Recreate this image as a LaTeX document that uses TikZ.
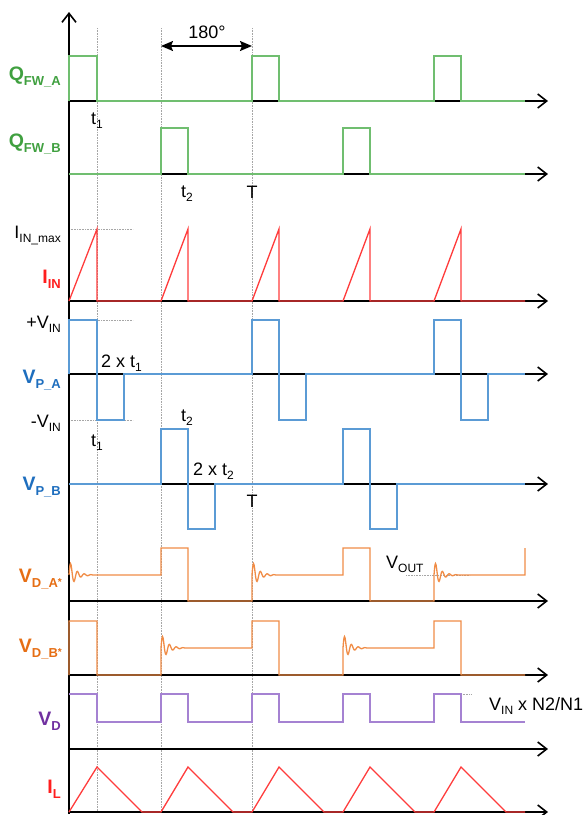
\documentclass[tikz,border=0pt]{standalone}
\usepackage{fontspec}
\setmainfont{Liberation Sans}
\usetikzlibrary{arrows.meta}

% Colores de las señales
\definecolor{qlbl}{RGB}{64,160,64}
\definecolor{qonda}{RGB}{112,190,112}
\definecolor{ilbl}{RGB}{255,30,30}
\definecolor{ionda}{RGB}{255,60,60}
\definecolor{vlbl}{RGB}{30,110,190}
\definecolor{vonda}{RGB}{91,155,213}
\definecolor{olbl}{RGB}{230,110,20}
\definecolor{oonda}{RGB}{240,140,70}
\definecolor{plbl}{RGB}{112,48,160}
\definecolor{ponda}{RGB}{165,130,210}

\newcommand{\sbs}[1]{\raisebox{-4.5pt}{\fontsize{12}{12}\selectfont #1}}
\newcommand{\sbb}[1]{\raisebox{-5pt}{\fontsize{13}{13}\selectfont #1}}
\pgfmathdeclarefunction{rizo}{1}{\pgfmathparse{15*exp(-#1/6)*sin(#1*360/6.8)}}

\begin{document}
\begin{tikzpicture}[x=1pt, y=-1pt,
        eje/.style={line width=1.8pt, -{Straight Barb[length=9pt, width=14pt, line width=1.6pt]}},
        guia/.style={gray!70, densely dotted, line width=0.6pt},
        onda/.style={line width=1.3pt, line join=miter},
        senal/.style={font=\fontsize{19.5}{21}\selectfont\bfseries, anchor=base east, inner sep=0pt},
        txt/.style={font=\fontsize{18}{20}\selectfont, anchor=base west, inner sep=0pt}
    ]
    \useasboundingbox (0,0) rectangle (587,815);

    % Guias punteadas
    \foreach \x in {97,161,252} \draw[guia] (\x,28) -- (\x,812);
    \draw[guia] (69,229) -- (133,229);
    \draw[guia] (69,320) -- (133,320);
    \draw[guia] (69,420) -- (133,420);
    \draw[guia] (406,575) -- (470,575);
    \draw[guia] (461,694) -- (472,694);

    % Ejes
    \coordinate (origen) at (69,814);
    \coordinate (cima) at (69,12);
    \draw[eje] (origen) -- (cima);
    \foreach \y/\n in {101/qa, 174/qb, 301/iin, 374/vpa, 484/vpb, 601/vda, 675/vdb, 749/vd, 812/il} {
        \coordinate (o-\n) at (69,\y);
        \coordinate (e-\n) at (548,\y);
        \draw[eje] (o-\n) -- (e-\n);
    }

    % Desfase de 180 grados
    \coordinate (fa) at (161,46);
    \coordinate (fb) at (252,46);
    \draw[{Stealth[length=12pt, width=10pt, inset=2pt]}-{Stealth[length=12pt, width=10pt, inset=2pt]}, line width=1.5pt] (fa) -- (fb);
    \node[txt, anchor=base] (ang) at (207,38) {180°};

    % Formas de onda
    \draw[onda, qonda] (69,101) -- (69,56) -- (97,56) -- (97,101) -- (252,101) -- (252,56) -- (279,56) -- (279,101)
        -- (434,101) -- (434,56) -- (461,56) -- (461,101) -- (525,101);
    \draw[onda, qonda] (69,174) -- (161,174) -- (161,128) -- (188,128) -- (188,174) -- (343,174) -- (343,128)
        -- (370,128) -- (370,174) -- (525,174);
    \draw[onda, ionda] (69,301) -- (97,229) -- (97,301) -- (161,301) -- (188,229) -- (188,301) -- (252,301)
        -- (279,229) -- (279,301) -- (343,301) -- (370,229) -- (370,301) -- (434,301) -- (461,229) -- (461,301) -- (525,301);
    \draw[onda, vonda] (69,374) -- (69,320) -- (97,320) -- (97,420) -- (124,420) -- (124,374) -- (252,374)
        -- (252,320) -- (279,320) -- (279,420) -- (306,420) -- (306,374) -- (434,374) -- (434,320) -- (461,320)
        -- (461,420) -- (488,420) -- (488,374) -- (525,374);
    \draw[onda, vonda] (69,484) -- (161,484) -- (161,429) -- (188,429) -- (188,529) -- (215,529) -- (215,484)
        -- (343,484) -- (343,429) -- (370,429) -- (370,529) -- (397,529) -- (397,484) -- (525,484);
    \draw[onda, oonda] plot[domain=0:24, samples=49] ({69+\x},{575-rizo(\x)}) -- (161,575) -- (161,548)
        -- (188,548) -- (188,601) -- (252,601) -- (252,575) -- plot[domain=0:24, samples=49] ({252+\x},{575-rizo(\x)})
        -- (343,575) -- (343,548) -- (370,548) -- (370,601) -- (434,601) -- (434,575)
        -- plot[domain=0:24, samples=49] ({434+\x},{575-rizo(\x)}) -- (525,575) -- (525,548);
    \draw[onda, oonda] (69,675) -- (69,621) -- (97,621) -- (97,675) -- (161,675) -- (161,648)
        -- plot[domain=0:24, samples=49] ({161+\x},{648-rizo(\x)}) -- (252,648) -- (252,621) -- (279,621)
        -- (279,675) -- (343,675) -- (343,648) -- plot[domain=0:24, samples=49] ({343+\x},{648-rizo(\x)})
        -- (434,648) -- (434,621) -- (461,621) -- (461,675) -- (525,675);
    \draw[onda, ponda] (69,694) -- (97,694) -- (97,722) -- (161,722) -- (161,694) -- (188,694) -- (188,722)
        -- (252,722) -- (252,694) -- (279,694) -- (279,722) -- (343,722) -- (343,694) -- (370,694) -- (370,722)
        -- (434,722) -- (434,694) -- (461,694) -- (461,722) -- (525,722);
    \draw[onda, ionda] (69,812) -- (97,767) -- (142,812) -- (161,812) -- (188,767) -- (233,812) -- (252,812)
        -- (279,767) -- (324,812) -- (343,812) -- (370,767) -- (415,812) -- (434,812) -- (461,767) -- (506,812) -- (525,812);

    % Nombres de las señales
    \node[senal, text=qlbl] (lqa) at (61,80) {Q\sbb{FW\_A}};
    \node[senal, text=qlbl] (lqb) at (61,147) {Q\sbb{FW\_B}};
    \node[senal, text=ilbl] (liin) at (61,283) {I\sbb{IN}};
    \node[senal, text=vlbl] (lvpa) at (61,383) {V\sbb{P\_A}};
    \node[senal, text=vlbl] (lvpb) at (61,490) {V\sbb{P\_B}};
    \node[senal, text=olbl] (lvda) at (62,582) {V\sbb{D\_A\raisebox{2pt}{\fontsize{10}{10}\selectfont*}}};
    \node[senal, text=olbl] (lvdb) at (62,652) {V\sbb{D\_B\raisebox{2pt}{\fontsize{10}{10}\selectfont*}}};
    \node[senal, text=plbl] (lvd) at (61,725) {V\sbb{D}};
    \node[senal, text=ilbl] (lil) at (61,793) {I\sbb{L}};

    % Niveles y tiempos
    \node[txt, anchor=base east] (imax) at (61,238) {I\sbs{IN\_max}};
    \node[txt, anchor=base east] (vinp) at (61,328) {+V\sbs{IN}};
    \node[txt, anchor=base east] (vinn) at (61,427) {-V\sbs{IN}};
    \node[txt] (ta) at (91,124) {t\sbs{1}};
    \node[txt] (tb) at (181,197) {t\sbs{2}};
    \node[txt, anchor=base] (pa) at (252,198) {T};
    \node[txt] (dta) at (101,367) {2 x t\sbs{1}};
    \node[txt] (tc) at (91,446) {t\sbs{1}};
    \node[txt] (td) at (181,421) {t\sbs{2}};
    \node[txt] (dtb) at (193,475) {2 x t\sbs{2}};
    \node[txt, anchor=base] (pb) at (252,507) {T};
    \node[txt] (vout) at (386,568) {V\sbs{OUT}};
    \node[txt] (vinr) at (489,710) {V\sbs{IN} x N2/N1};

\end{tikzpicture}
\end{document}
